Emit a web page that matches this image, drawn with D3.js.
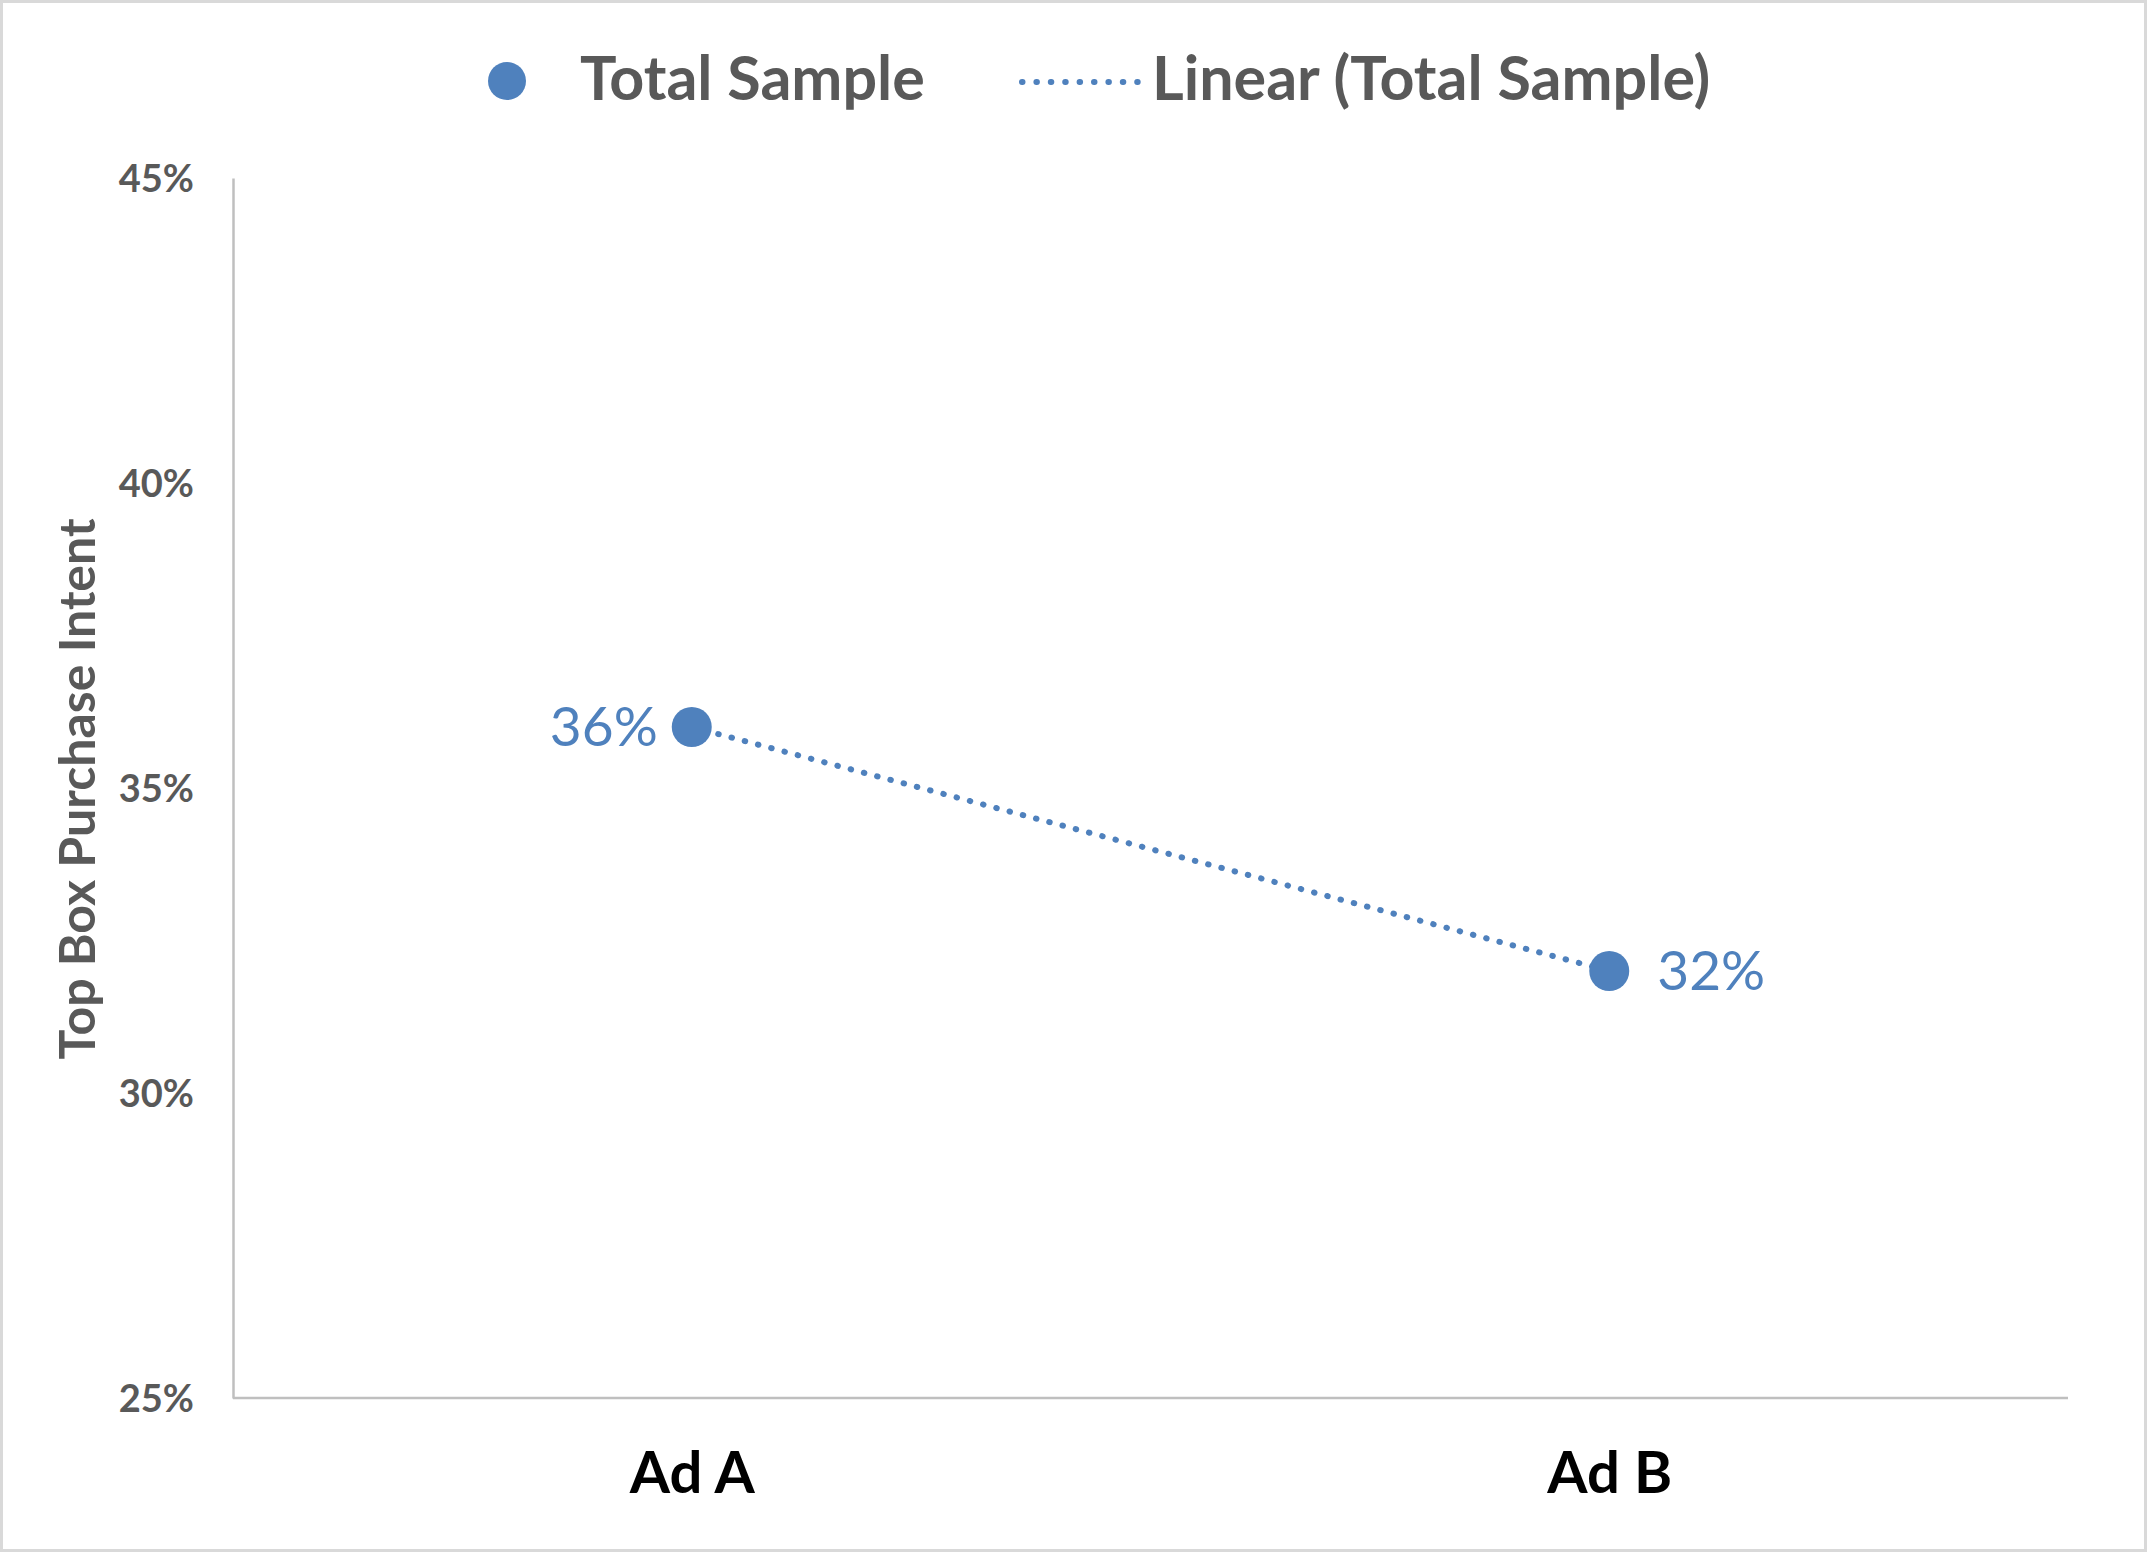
<!DOCTYPE html>
<html>
<head>
<meta charset="utf-8">
<script src="https://cdn.jsdelivr.net/npm/d3@7"></script>
<style>
  html, body { margin: 0; padding: 0; background: #fff; }
  svg { display: block; font-family: Lato, "Open Sans", sans-serif; }
</style>
</head>
<body>
<script>
// data
var categories = ['Ad A', 'Ad B'];
var values = [0.36, 0.32];
var yTicks = [0.25, 0.30, 0.35, 0.40, 0.45];
var seriesName = 'Total Sample';
var trendName = 'Linear (Total Sample)';
var yTitle = 'Top Box Purchase Intent';

var width = 2147, height = 1552;
var blue = '#4f81bd';
var grey = '#595959';

var svg = d3.select('body').append('svg')
  .attr('width', width)
  .attr('height', height);

// outer chart border
svg.append('rect')
  .attr('x', 1.5).attr('y', 1.5)
  .attr('width', width - 3).attr('height', height - 3)
  .attr('fill', '#fff')
  .attr('stroke', '#d9d9d9')
  .attr('stroke-width', 3);

var x = d3.scalePoint()
  .domain(categories)
  .range([233, 2068])
  .padding(0.5);

var y = d3.scaleLinear()
  .domain([0.25, 0.45])
  .range([1398, 178]);

// y axis: line plus labels, no tick marks
var yAxis = svg.append('g')
  .attr('transform', 'translate(233,0)')
  .call(d3.axisLeft(y).tickValues(yTicks).tickSize(0).tickPadding(39)
    .tickFormat(d3.format('.0%')))
  .attr('font-family', null)
  .attr('font-size', null);
yAxis.select('.domain').attr('stroke', '#bfbfbf').attr('stroke-width', 2.5);
yAxis.selectAll('text')
  .attr('fill', grey)
  .attr('font-size', 38)
  .attr('font-weight', 700)
  .attr('dy', '0.36em');

// x axis
var xAxis = svg.append('g')
  .attr('transform', 'translate(0,1398)')
  .call(d3.axisBottom(x).tickSize(0).tickSizeOuter(0).tickPadding(0))
  .attr('font-family', null)
  .attr('font-size', null);
xAxis.select('.domain')
  .attr('d', 'M233,0H2068')
  .attr('stroke', '#bfbfbf').attr('stroke-width', 2.5);
xAxis.selectAll('text')
  .attr('fill', '#000')
  .attr('font-size', 58)
  .attr('font-weight', 700)
  .attr('dy', null)
  .attr('y', 95);

// axis title
svg.append('text')
  .attr('transform', 'translate(95,789) rotate(-90)')
  .attr('text-anchor', 'middle')
  .attr('fill', grey)
  .attr('font-size', 50)
  .attr('font-weight', 700)
  .text(yTitle);

// linear trendline (least squares over category index)
var idx = values.map(function(d, i) { return i + 1; });
var mx = d3.mean(idx), my = d3.mean(values);
var slope = d3.sum(idx, function(d, i) { return (d - mx) * (values[i] - my); }) /
  d3.sum(idx, function(d) { return (d - mx) * (d - mx); });
var icpt = my - slope * mx;
var trend = idx.map(function(d, i) { return { c: categories[i], v: icpt + slope * d }; });

svg.append('path')
  .datum(trend)
  .attr('fill', 'none')
  .attr('stroke', blue)
  .attr('stroke-width', 6)
  .attr('stroke-linecap', 'round')
  .attr('stroke-dasharray', '0.5 13.2')
  .attr('d', d3.line().x(function(d) { return x(d.c); }).y(function(d) { return y(d.v); }));

// points
svg.append('g').selectAll('circle')
  .data(values)
  .enter()
  .append('circle')
  .attr('cx', function(d, i) { return x(categories[i]); })
  .attr('cy', function(d) { return y(d); })
  .attr('r', 20)
  .attr('fill', blue);

// data labels: first on the left, second on the right
svg.append('g').selectAll('text')
  .data(values)
  .enter()
  .append('text')
  .attr('x', function(d, i) { return x(categories[i]) + (i === 0 ? -34 : 48); })
  .attr('y', function(d) { return y(d) + 19; })
  .attr('text-anchor', function(d, i) { return i === 0 ? 'end' : 'start'; })
  .attr('fill', blue)
  .attr('font-size', 55)
  .text(function(d) { return d3.format('.0%')(d); });

// legend
var legend = svg.append('g');
legend.append('circle')
  .attr('cx', 507).attr('cy', 81).attr('r', 19)
  .attr('fill', blue);
legend.append('text')
  .attr('x', 580).attr('y', 100)
  .attr('fill', grey).attr('font-size', 61).attr('font-weight', 700)
  .text(seriesName);
legend.append('line')
  .attr('x1', 1022).attr('x2', 1138).attr('y1', 82).attr('y2', 82)
  .attr('stroke', blue)
  .attr('stroke-width', 6)
  .attr('stroke-linecap', 'round')
  .attr('stroke-dasharray', '0.5 13.9');
legend.append('text')
  .attr('x', 1152).attr('y', 100)
  .attr('fill', grey).attr('font-size', 61).attr('font-weight', 700)
  .text(trendName);
</script>
</body>
</html>
